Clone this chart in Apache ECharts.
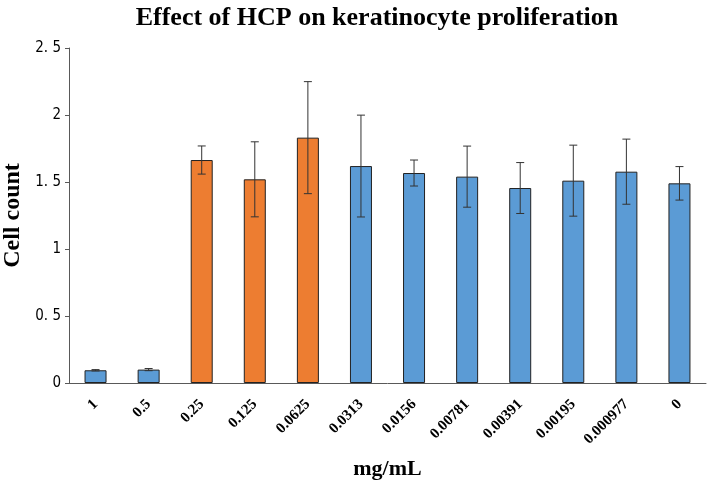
<!DOCTYPE html>
<html>
<head>
<meta charset="utf-8">
<script src="https://cdn.jsdelivr.net/npm/echarts@6/dist/echarts.min.js"></script>
<style>
  html, body { margin: 0; padding: 0; background: #fff; }
  #chart { width: 709px; height: 484px; }
</style>
</head>
<body>
<div id="chart"></div>
<script>
(function (window) {
    "use strict";
    var categories = ['1', '0.5', '0.25', '0.125', '0.0625', '0.0313', '0.0156',
        '0.00781', '0.00391', '0.00195', '0.000977', '0'];
    var means = [0.095, 0.10, 1.664, 1.52, 1.831, 1.619, 1.567, 1.54, 1.455, 1.51, 1.577, 1.49];
    var errors = [0.005, 0.008, 0.105, 0.28, 0.418, 0.38, 0.097, 0.228, 0.19, 0.265, 0.243, 0.125];
    // 0.25 .. 0.0625 drawn in orange
    var highlighted = [false, false, true, true, true, false, false, false, false, false, false, false];

    var blue = '#5b9bd5';
    var orange = '#ed7d31';
    var serif = '"Liberation Serif", "DejaVu Serif", serif';

    var bar_data = means.map(function (v, i) {
        return {
            value: v,
            itemStyle: { color: highlighted[i] ? orange : blue }
        };
    });
    var err_data = means.map(function (v, i) {
        return [i, v - errors[i], v + errors[i]];
    });

    var render_error = function (params, api) {
        var x = api.value(0);
        var lo = api.coord([x, api.value(1)]);
        var hi = api.coord([x, api.value(2)]);
        var half = 4;
        var style = { stroke: '#333', lineWidth: 1 };
        return {
            type: 'group',
            children: [
                { type: 'line', shape: { x1: lo[0], y1: lo[1], x2: hi[0], y2: hi[1] }, style: style },
                { type: 'line', shape: { x1: hi[0] - half, y1: hi[1], x2: hi[0] + half, y2: hi[1] }, style: style },
                { type: 'line', shape: { x1: lo[0] - half, y1: lo[1], x2: lo[0] + half, y2: lo[1] }, style: style }
            ]
        };
    };

    var chart = echarts.init(document.getElementById('chart'));
    chart.setOption({
        animation: false,
        title: {
            text: 'Effect of HCP on keratinocyte proliferation',
            left: 372,
            textAlign: 'center',
            top: 0,
            textStyle: { fontFamily: serif, fontWeight: 'bold', fontSize: 26, color: '#000' }
        },
        grid: { left: 69, right: 3, top: 48, bottom: 101, outerBoundsMode: 'none' },
        xAxis: {
            type: 'category',
            data: categories,
            name: 'mg/mL',
            nameLocation: 'middle',
            nameGap: 75,
            nameTextStyle: { fontFamily: serif, fontWeight: 'bold', fontSize: 22, color: '#000' },
            axisLine: { lineStyle: { color: '#595959', width: 1 } },
            axisTick: { show: false },
            axisLabel: {
                rotate: 45,
                margin: 19,
                interval: 0,
                fontFamily: serif,
                fontWeight: 'bold',
                fontSize: 15,
                color: '#000'
            }
        },
        yAxis: {
            type: 'value',
            min: 0,
            max: 2.5,
            interval: 0.5,
            name: 'Cell count',
            nameLocation: 'middle',
            nameGap: 41,
            nameTextStyle: { fontFamily: serif, fontWeight: 'bold', fontSize: 24, color: '#000' },
            axisLine: { show: true, lineStyle: { color: '#595959', width: 1 } },
            axisTick: { show: true, length: 4, lineStyle: { color: '#595959' } },
            splitLine: { show: false },
            axisLabel: {
                margin: 8,
                fontFamily: '"Liberation Sans Narrow", "DejaVu Sans Condensed", sans-serif',
                fontSize: 15,
                color: '#000',
                formatter: function (v) {
                    return String(v).replace('.', '. ');
                }
            }
        },
        series: [{
            type: 'bar',
            data: bar_data,
            barWidth: 22,
            itemStyle: { borderColor: '#222', borderWidth: 1 }
        }, {
            type: 'custom',
            data: err_data,
            renderItem: render_error,
            z: 10,
            encode: { x: 0, y: [1, 2] }
        }]
    });
})(window);
</script>
</body>
</html>
